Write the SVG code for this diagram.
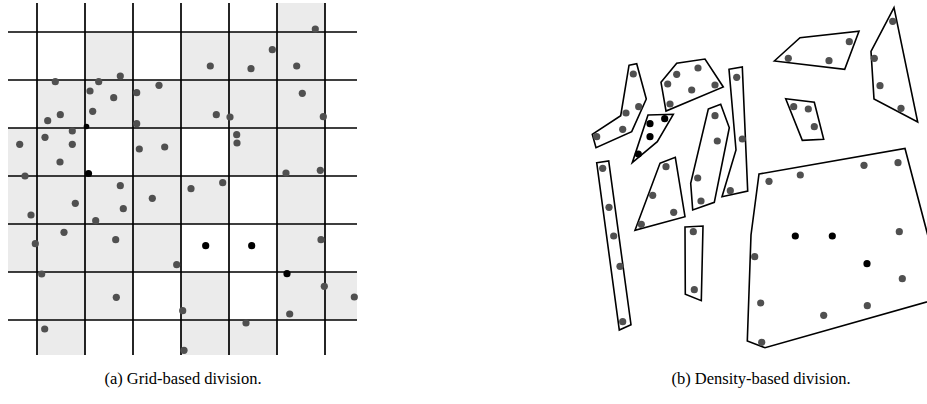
<svg xmlns="http://www.w3.org/2000/svg" width="927" height="404" viewBox="0 0 927 404">
<style>
.cell{fill:#ebebeb;stroke:none}
.ln{stroke:#000;stroke-width:1.7;fill:none}
.pt{fill:#505050}
.bk{fill:#000}
.poly{fill:none;stroke:#000;stroke-width:1.6;stroke-linejoin:miter}
.cap{font-family:"Liberation Serif","Times New Roman",serif;font-size:16.5px;fill:#000}
</style>
<rect width="927" height="404" fill="#fff"/>
<g id="grid-panel">
<g id="shaded-cells">
<rect class="cell" x="277" y="3" width="48" height="29"/>
<rect class="cell" x="85" y="32" width="48" height="48"/>
<rect class="cell" x="181" y="32" width="144" height="48"/>
<rect class="cell" x="37" y="80" width="288" height="48"/>
<rect class="cell" x="8" y="128" width="77" height="48"/>
<rect class="cell" x="133" y="128" width="48" height="48"/>
<rect class="cell" x="229" y="128" width="96" height="48"/>
<rect class="cell" x="8" y="176" width="221" height="48"/>
<rect class="cell" x="277" y="176" width="48" height="48"/>
<rect class="cell" x="8" y="224" width="173" height="48"/>
<rect class="cell" x="277" y="224" width="48" height="48"/>
<rect class="cell" x="37" y="272" width="96" height="48"/>
<rect class="cell" x="181" y="272" width="48" height="48"/>
<rect class="cell" x="277" y="272" width="80" height="48"/>
<rect class="cell" x="37" y="320" width="48" height="35"/>
<rect class="cell" x="181" y="320" width="96" height="35"/>
</g>
<g id="grid-lines" class="ln">
<path d="M37 3V355M85 3V355M133 3V355M181 3V355M229 3V355M277 3V355M325 3V355"/>
<path d="M8 32H357M8 80H357M8 128H357M8 176H357M8 224H357M8 272H357M8 320H357"/>
</g>
<g id="grid-points" class="pt">
<circle cx="55.3" cy="81.7" r="3.6"/><circle cx="98.7" cy="81.7" r="3.6"/><circle cx="120.3" cy="76" r="3.6"/>
<circle cx="90" cy="91" r="3.6"/><circle cx="113.7" cy="97.7" r="3.6"/><circle cx="136.7" cy="92.7" r="3.6"/>
<circle cx="159" cy="85.3" r="3.6"/><circle cx="60.3" cy="114.7" r="3.6"/><circle cx="47.7" cy="120.7" r="3.6"/>
<circle cx="92.7" cy="111.3" r="3.6"/><circle cx="136.7" cy="123.7" r="3.6"/><circle cx="72.3" cy="131" r="3.6"/>
<circle cx="45" cy="137.3" r="3.6"/><circle cx="72.3" cy="144.3" r="3.6"/><circle cx="19.7" cy="144.3" r="3.6"/>
<circle cx="60" cy="162" r="3.6"/><circle cx="139.3" cy="149" r="3.6"/><circle cx="164.7" cy="147" r="3.6"/>
<circle cx="25" cy="176" r="3.6"/>
<circle cx="315.3" cy="29" r="3.6"/><circle cx="272.3" cy="49.7" r="3.6"/><circle cx="210.3" cy="66" r="3.6"/>
<circle cx="251" cy="68.7" r="3.6"/><circle cx="296.7" cy="66" r="3.6"/><circle cx="302.3" cy="93.3" r="3.6"/>
<circle cx="216.3" cy="114.7" r="3.6"/><circle cx="230" cy="117" r="3.6"/><circle cx="323.3" cy="116.7" r="3.6"/>
<circle cx="236.7" cy="134.7" r="3.6"/><circle cx="237" cy="143" r="3.6"/><circle cx="286" cy="173" r="3.6"/>
<circle cx="320.3" cy="170.3" r="3.6"/>
<circle cx="120.3" cy="185.7" r="3.6"/><circle cx="75.3" cy="203.3" r="3.6"/><circle cx="152.3" cy="198.3" r="3.6"/>
<circle cx="31" cy="215" r="3.6"/><circle cx="123.3" cy="208.7" r="3.6"/><circle cx="95.7" cy="220.7" r="3.6"/>
<circle cx="64" cy="232.3" r="3.6"/><circle cx="35.3" cy="243.7" r="3.6"/><circle cx="115.7" cy="239.7" r="3.6"/>
<circle cx="176.7" cy="264.7" r="3.6"/><circle cx="41.7" cy="274" r="3.6"/><circle cx="116.3" cy="297.3" r="3.6"/>
<circle cx="44.7" cy="329" r="3.6"/>
<circle cx="191" cy="188.7" r="3.6"/><circle cx="222.7" cy="182.7" r="3.6"/><circle cx="321" cy="239.7" r="3.6"/>
<circle cx="324.3" cy="286.3" r="3.6"/><circle cx="354.3" cy="297" r="3.6"/><circle cx="182.7" cy="310.7" r="3.6"/>
<circle cx="289.7" cy="314" r="3.6"/><circle cx="246" cy="323" r="3.6"/><circle cx="184" cy="350.3" r="3.6"/>
</g>
<g id="grid-black-points" class="bk">
<circle cx="86.5" cy="126.5" r="2.8"/><circle cx="88.5" cy="173.5" r="3.6"/>
<circle cx="205.7" cy="245.7" r="3.6"/><circle cx="251.7" cy="245.7" r="3.6"/><circle cx="287" cy="273.7" r="3.6"/>
</g>
</g>
<g id="density-panel">
<g id="clusters" class="poly">
<polygon id="cA" points="629,65.3 636.7,63.7 646.3,99 631.7,131.7 596,147.7 592.3,134.3 620.7,115.7"/>
<polygon id="cB" points="661,82.3 676.7,63.3 705,59 723.3,87 666,111"/>
<polygon id="cC" points="648,115 673.3,114.3 657.3,141.7 632.3,162.7"/>
<polygon id="cD" points="729,69.3 742.3,67 747.7,191 722,196.7 736,150"/>
<polygon id="cE" points="708.3,109 720.7,104.3 729.3,127.7 714.3,202.3 692.7,210 690.7,183.3"/>
<polygon id="cF" points="660,163.3 675.3,157.3 685,216.7 635,230.3"/>
<polygon id="cG" points="596.7,162.7 608.7,161 631,324.7 619.3,330"/>
<polygon id="cH" points="685,227 703,226 701.3,300.7 685.3,294.3"/>
<polygon id="cI" points="774.3,61 800,37.7 859,31.3 844.7,69.3"/>
<polygon id="cJ" points="894,7.7 917.7,122 874,99 871,51.3"/>
<polygon id="cK" points="785.7,98.7 814.3,102.3 823.7,139.3 802.3,140.3"/>
<polygon id="cL" points="759,174 905,148.5 944,297 765,347.7 747.3,341 751,235"/>
</g>
<g id="density-points" class="pt">
<circle cx="633.3" cy="74" r="3.6"/><circle cx="638.7" cy="106.7" r="3.6"/><circle cx="626" cy="113" r="3.6"/>
<circle cx="622.7" cy="129.3" r="3.6"/><circle cx="596.7" cy="136.7" r="3.6"/>
<circle cx="676.7" cy="74.3" r="3.6"/><circle cx="698" cy="68" r="3.6"/><circle cx="667.7" cy="84" r="3.6"/>
<circle cx="691.7" cy="90" r="3.6"/><circle cx="715" cy="85" r="3.6"/><circle cx="670" cy="104" r="3.6"/>
<circle cx="736.7" cy="77.3" r="3.6"/><circle cx="742.3" cy="139" r="3.6"/><circle cx="730.3" cy="190.7" r="3.6"/>
<circle cx="715" cy="115.7" r="3.6"/><circle cx="717.3" cy="141" r="3.6"/><circle cx="697.7" cy="178" r="3.6"/>
<circle cx="701" cy="201" r="3.6"/>
<circle cx="666" cy="166.7" r="3.6"/><circle cx="652.7" cy="195.3" r="3.6"/><circle cx="673.7" cy="212.3" r="3.6"/>
<circle cx="641.3" cy="224.3" r="3.6"/>
<circle cx="602.7" cy="168.3" r="3.6"/><circle cx="609" cy="207.3" r="3.6"/><circle cx="613.7" cy="236" r="3.6"/>
<circle cx="620" cy="266.3" r="3.6"/><circle cx="622.7" cy="321.7" r="3.6"/>
<circle cx="693.3" cy="231.7" r="3.6"/><circle cx="694.3" cy="289.7" r="3.6"/>
<circle cx="788.3" cy="58.3" r="3.6"/><circle cx="829" cy="60.7" r="3.6"/><circle cx="849.3" cy="41.7" r="3.6"/>
<circle cx="892.7" cy="21.3" r="3.6"/><circle cx="874.3" cy="58.3" r="3.6"/><circle cx="880" cy="85.7" r="3.6"/>
<circle cx="901" cy="108.3" r="3.6"/>
<circle cx="793.7" cy="106.7" r="3.6"/><circle cx="808.3" cy="109" r="3.6"/><circle cx="814.3" cy="126.7" r="3.6"/>
<circle cx="769" cy="181.3" r="3.6"/><circle cx="800.3" cy="175" r="3.6"/><circle cx="864" cy="165.3" r="3.6"/>
<circle cx="898" cy="162.7" r="3.6"/><circle cx="899.3" cy="231.7" r="3.6"/><circle cx="754.7" cy="256.7" r="3.6"/>
<circle cx="902.3" cy="278.7" r="3.6"/><circle cx="760.7" cy="303" r="3.6"/><circle cx="867.3" cy="305.7" r="3.6"/>
<circle cx="823.7" cy="315.3" r="3.6"/><circle cx="761.7" cy="342.3" r="3.6"/>
</g>
<g id="density-black-points" class="bk">
<circle cx="664.7" cy="118.7" r="3.6"/><circle cx="650" cy="123.7" r="3.6"/><circle cx="650" cy="136.7" r="3.6"/>
<circle cx="638.3" cy="154" r="3.6"/>
<circle cx="795.3" cy="236" r="3.6"/><circle cx="832.3" cy="236" r="3.6"/><circle cx="867" cy="263.7" r="3.6"/>
</g>
</g>
<text class="cap" x="183" y="384" text-anchor="middle">(a) Grid-based division.</text>
<text class="cap" x="761" y="384" text-anchor="middle">(b) Density-based division.</text>
</svg>
